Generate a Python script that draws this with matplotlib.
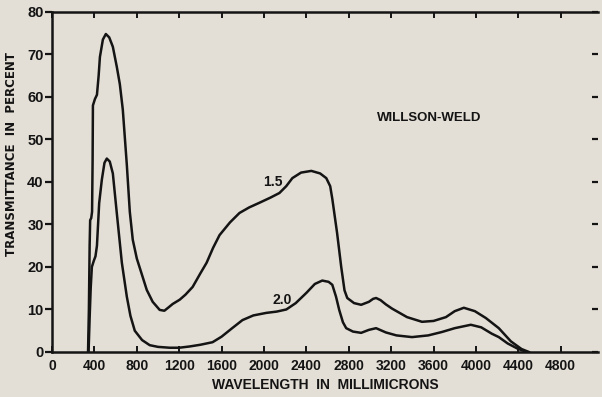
import matplotlib
matplotlib.use('Agg')
import matplotlib.pyplot as plt

# wavelength (millimicrons) and transmittance (%)
wl_15 = [340, 348, 355, 360, 370, 378, 383, 386, 405, 424, 440, 452, 480, 508,
         540, 574, 612, 640, 668, 706, 734, 762, 800, 856, 894, 950, 1016,
         1060, 1100, 1139, 1205, 1260, 1327, 1400, 1459, 1520, 1581, 1680,
         1769, 1860, 1957, 2060, 2146, 2210, 2268, 2350, 2447, 2530, 2588,
         2625, 2645, 2690, 2729, 2760, 2786, 2850, 2917, 2990, 3030, 3058,
         3100, 3150, 3209, 3350, 3491, 3600, 3717, 3800, 3886, 3990, 4093,
         4216, 4330, 4430, 4500]
tr_15 = [0, 10, 25, 31, 31.5, 33, 45, 58, 59.5, 60.5, 65, 69.4, 73.5, 74.8,
         74, 71.8, 67, 63, 57, 44, 33, 26.4, 22, 17.6, 14.6, 11.8, 9.9,
         9.7, 10.5, 11.3, 12.3, 13.5, 15.3, 18.5, 21, 24.5, 27.5, 30.5,
         32.7, 34, 35.1, 36.3, 37.4, 39, 40.9, 42.2, 42.6, 42, 40.9,
         39, 36, 28, 20, 14.5, 12.7, 11.5, 11.1, 11.8, 12.5, 12.7,
         12.2, 11.2, 10.2, 8.2, 7.1, 7.3, 8.2, 9.6, 10.4, 9.6, 8.0,
         5.6, 2.5, 0.7, 0]

wl_20 = [345, 355, 365, 376, 395, 410, 424, 445, 470, 495, 517, 545, 574,
         610, 659, 706, 740, 781, 850, 922, 1000, 1110, 1200, 1300, 1400,
         1515, 1600, 1700, 1797, 1900, 2023, 2120, 2211, 2300, 2400, 2480,
         2550, 2610, 2645, 2680, 2710, 2745, 2776, 2840, 2917, 2990, 3058,
         3150, 3250, 3397, 3550, 3679, 3800, 3952, 4050, 4150, 4216, 4300,
         4400, 4480]
tr_20 = [0, 8, 15, 20, 21.5, 22.5, 25, 35, 40.5, 44.5, 45.5, 44.8, 42,
         33, 21, 13, 8.5, 5, 2.8, 1.6, 1.2, 1.0, 1.0, 1.3, 1.7,
         2.3, 3.6, 5.6, 7.5, 8.6, 9.2, 9.5, 10.0, 11.5, 13.9, 16,
         16.8, 16.5, 15.8, 13, 9.9, 7, 5.6, 4.8, 4.5, 5.2, 5.6,
         4.6, 3.9, 3.5, 3.9, 4.7, 5.6, 6.4, 5.8, 4.3, 3.5, 2.0,
         0.7, 0]

x_ticks = list(range(0, 4801, 400))
y_ticks = list(range(0, 81, 10))

bg = '#e4dfd6'
ink = '#141414'
font = {'family': 'Liberation Sans', 'weight': 'bold'}
wide = {'family': 'DejaVu Sans', 'weight': 'bold'}

fig = plt.figure(figsize=(6.02, 3.97), dpi=100, facecolor=bg)
ax = fig.add_axes([0.0864, 0.1134, 0.9066, 0.8566], facecolor=bg)

ax.plot(wl_15, tr_15, color=ink, lw=1.8, solid_joinstyle='round')
ax.plot(wl_20, tr_20, color=ink, lw=1.8, solid_joinstyle='round')

ax.set_xlim(0, 5150)
ax.set_ylim(0, 80)
ax.set_xticks(x_ticks)
ax.set_yticks(y_ticks)
ax.set_xticklabels([str(t) for t in x_ticks], fontdict=font, fontsize=10)
ax.set_yticklabels([str(t) for t in y_ticks], fontdict=font, fontsize=10.5)

for s in ['left', 'bottom', 'top']:
    ax.spines[s].set_linewidth(1.8)
    ax.spines[s].set_color(ink)
ax.spines['right'].set_visible(False)

ax.tick_params(axis='x', direction='in', top=True, length=4, width=1.4,
               pad=5, colors=ink)
ax.tick_params(axis='y', direction='out', length=5, width=1.6, pad=1,
               colors=ink)
ax.tick_params(axis='y', which='major', right=True)
for t in ax.yaxis.get_major_ticks():
    t.tick2line.set_marker(0)
    t.tick2line.set_markersize(4)
    t.tick2line.set_markeredgewidth(1.6)

ax.set_xlabel('WAVELENGTH  IN  MILLIMICRONS', fontdict=font, fontsize=10,
              labelpad=4, color=ink)
ax.set_ylabel('TRANSMITTANCE  IN  PERCENT', fontdict=wide, fontsize=8.5,
              color=ink)
ax.yaxis.set_label_coords(-0.062, 0.582)

ax.text(3560, 55, 'WILLSON-WELD', ha='center', va='center', fontdict=font,
        fontsize=9.5, color=ink)
ax.text(2080, 40, '1.5', ha='center', va='center', fontdict=font,
        fontsize=10, color=ink)
ax.text(2174, 12.2, '2.0', ha='center', va='center', fontdict=font,
        fontsize=10, color=ink)

fig.savefig('out.png', dpi=100, facecolor=bg)
